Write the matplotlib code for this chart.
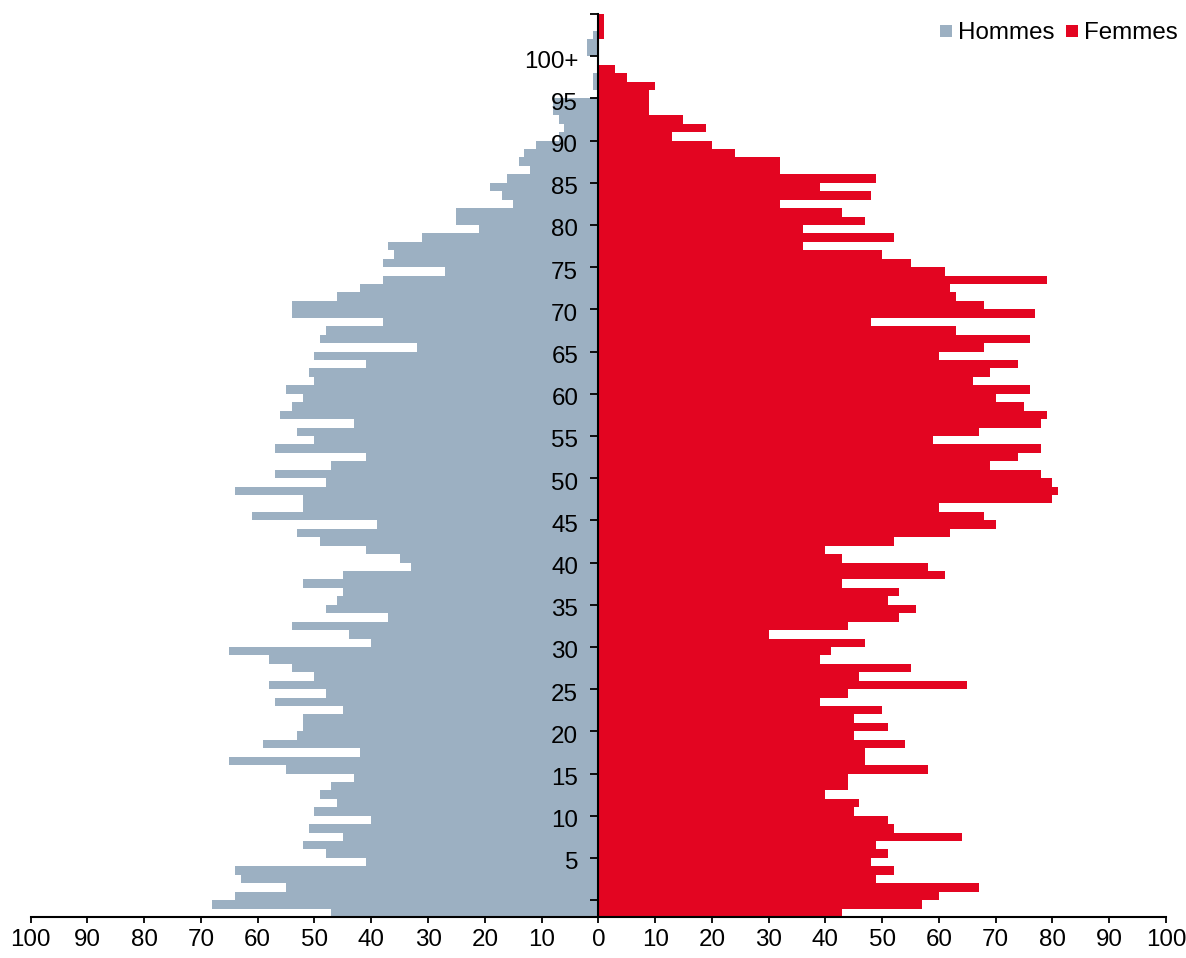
import matplotlib
matplotlib.use('Agg')
import matplotlib.pyplot as plt
import matplotlib.transforms as mtransforms
from matplotlib.lines import Line2D
import numpy as np

# ---- data (one bar per age, from the bottom) ----
ages = list(range(107))
hommes = [47, 68, 64, 55, 63, 64, 41, 48, 52, 45,
          51, 40, 50, 46, 49, 47, 43, 55, 65, 42,
          59, 53, 52, 52, 45, 57, 48, 58, 50, 54,
          58, 65, 40, 44, 54, 37, 48, 46, 45, 52,
          45, 33, 35, 41, 49, 53, 39, 61, 52, 52,
          64, 48, 57, 47, 41, 57, 50, 53, 43, 56,
          54, 52, 55, 50, 51, 41, 50, 32, 49, 48,
          38, 54, 54, 46, 42, 38, 27, 38, 36, 37,
          31, 21, 25, 25, 15, 17, 19, 16, 12, 14,
          13, 11, 7, 6, 7, 8, 8, 0, 1, 1,
          0, 0, 2, 2, 1, 0, 0]
femmes = [43, 57, 60, 67, 49, 52, 48, 51, 49, 64,
          52, 51, 45, 46, 40, 44, 44, 58, 47, 47,
          54, 45, 51, 45, 50, 39, 44, 65, 46, 55,
          39, 41, 47, 30, 44, 53, 56, 51, 53, 43,
          61, 58, 43, 40, 52, 62, 70, 68, 60, 80,
          81, 80, 78, 69, 74, 78, 59, 67, 78, 79,
          75, 70, 76, 66, 69, 74, 60, 68, 76, 63,
          48, 77, 68, 63, 62, 79, 61, 55, 50, 36,
          52, 36, 47, 43, 32, 48, 39, 49, 32, 32,
          24, 20, 13, 19, 15, 9, 9, 9, 10, 5,
          3, 0, 0, 0, 1, 1, 1]
series_names = ['Hommes', 'Femmes']
xtick_values = list(range(-100, 101, 10))
xtick_labels = [str(abs(v)) for v in xtick_values]
ytick_labels = [''] + [str(5 * k) for k in range(1, 20)] + ['100+', '']

# ---- style ----
GREY = '#9CB0C2'
RED = '#E30521'
FS = 17.4
plt.rcParams['font.family'] = ['Liberation Sans', 'DejaVu Sans']

W, H = 1186, 958
fig = plt.figure(figsize=(W / 100, H / 100), dpi=100)
left_px, right_px, top_px, bottom_px = 30.6, 1166.0, 14.0, 917.0
ax = fig.add_axes([left_px / W, (H - bottom_px) / H,
                   (right_px - left_px) / W, (bottom_px - top_px) / H])

ax.barh(ages, [-v for v in hommes], height=1.0, color=GREY,
        linewidth=0, antialiased=False)
ax.barh(ages, femmes, height=1.0, color=RED,
        linewidth=0, antialiased=False)

ax.set_xlim(-100, 100)
ax.set_ylim(-0.5, 106.5)

# y axis at x = 0
ax.spines['left'].set_position(('data', 0))
ax.spines['left'].set_linewidth(1.5)
ax.spines['left'].set_zorder(5)
ax.spines['bottom'].set_linewidth(1.5)
ax.spines['top'].set_visible(False)
ax.spines['right'].set_visible(False)

yticks = [1.5 + 5 * k for k in range(len(ytick_labels))]
ax.set_yticks(yticks)
ax.set_yticklabels(ytick_labels)
ax.set_xticks(xtick_values)
ax.set_xticklabels(xtick_labels)

ax.tick_params(axis='y', direction='out', length=5.5, width=1.3, pad=9,
               labelsize=FS, colors='black')
ax.tick_params(axis='x', direction='out', length=4, width=1.3, pad=5,
               labelsize=FS, colors='black')

offset = mtransforms.ScaledTranslation(0, -3 / 100, fig.dpi_scale_trans)
for lab in ax.get_yticklabels():
    lab.set_transform(lab.get_transform() + offset)

handles = [Line2D([], [], marker='s', linestyle='none', markersize=8.3,
                  markerfacecolor=GREY, markeredgewidth=0),
           Line2D([], [], marker='s', linestyle='none', markersize=8.3,
                  markerfacecolor=RED, markeredgewidth=0)]
ax.legend(handles, series_names, loc='upper right',
          bbox_to_anchor=(1178 / W, 1 - 22 / H), bbox_transform=fig.transFigure,
          ncol=2, frameon=False, fontsize=FS, handlelength=0.5,
          handletextpad=0.24, columnspacing=0.5, borderpad=0, borderaxespad=0)

fig.savefig('out.png', dpi=100)
